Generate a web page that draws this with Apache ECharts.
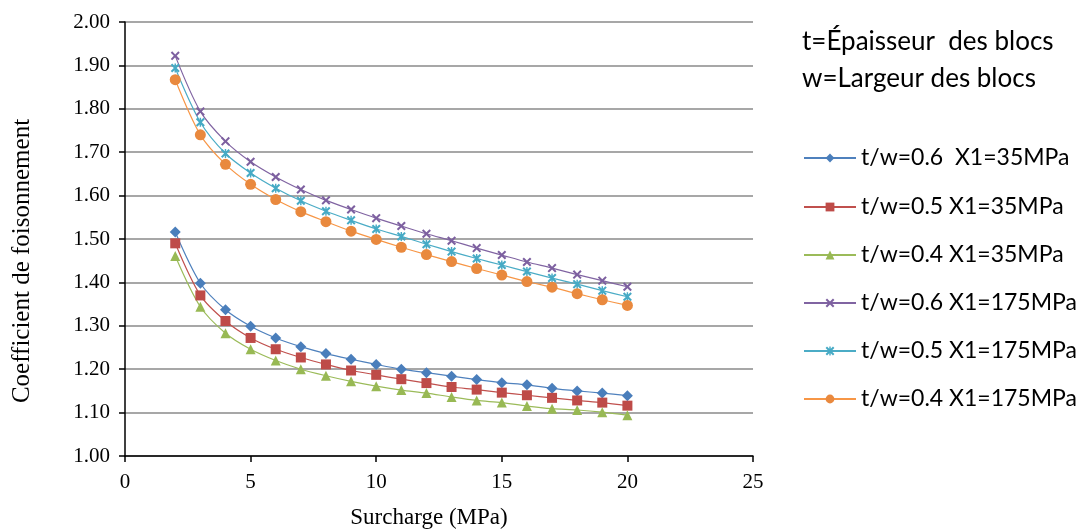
<!DOCTYPE html>
<html>
<head>
<meta charset="utf-8">
<script src="https://cdn.jsdelivr.net/npm/echarts@6/dist/echarts.min.js"></script>
<style>
html,body{margin:0;padding:0;background:#fff;}
#main{width:1085px;height:531px;}
</style>
</head>
<body>
<div id="main"></div>
<script>
// ---- data ----
const surcharge = [2,3,4,5,6,7,8,9,10,11,12,13,14,15,16,17,18,19,20];
const s06_35  = [1.516,1.398,1.337,1.299,1.272,1.252,1.236,1.223,1.211,1.200,1.192,1.184,1.176,1.169,1.164,1.156,1.150,1.145,1.139];
const s05_35  = [1.490,1.370,1.311,1.272,1.246,1.227,1.211,1.197,1.187,1.177,1.168,1.159,1.153,1.146,1.140,1.134,1.128,1.123,1.116];
const s04_35  = [1.461,1.344,1.283,1.246,1.220,1.200,1.185,1.172,1.161,1.152,1.145,1.136,1.128,1.123,1.115,1.109,1.106,1.101,1.094];
const s06_175 = [1.922,1.794,1.725,1.678,1.643,1.614,1.589,1.568,1.548,1.530,1.512,1.496,1.479,1.463,1.447,1.433,1.418,1.404,1.390];
const s05_175 = [1.894,1.769,1.697,1.652,1.617,1.588,1.564,1.543,1.523,1.506,1.488,1.471,1.455,1.440,1.425,1.410,1.396,1.381,1.367];
const s04_175 = [1.867,1.740,1.672,1.626,1.591,1.563,1.540,1.518,1.499,1.481,1.464,1.448,1.432,1.417,1.402,1.389,1.374,1.360,1.347];
const seriesNames = [
  't/w=0.6  X1=35MPa',
  't/w=0.5 X1=35MPa',
  't/w=0.4 X1=35MPa',
  't/w=0.6 X1=175MPa',
  't/w=0.5 X1=175MPa',
  't/w=0.4 X1=175MPa'
];
const seriesValues = [s06_35, s05_35, s04_35, s06_175, s05_175, s04_175];
const headerLines = ['t=Épaisseur  des blocs', 'w=Largeur des blocs'];
const xTitle = 'Surcharge (MPa)';
const yTitle = 'Coefficient de foisonnement';

// ---- styles ----
const XPATH = 'path://M0,1.6L1.6,0L5,3.4L8.4,0L10,1.6L6.6,5L10,8.4L8.4,10L5,6.6L1.6,10L0,8.4L3.4,5Z';
const STARPATH = 'path://M0,1.6L1.6,0L5,3.4L8.4,0L10,1.6L6.6,5L10,8.4L8.4,10L5,6.6L1.6,10L0,8.4L3.4,5ZM4.2,0L5.8,0L5.8,10L4.2,10Z';
const styles = [
  {line:'#4F81BD', mark:'#4A7EBB', symbol:'diamond', size:11},
  {line:'#C0504D', mark:'#BE4B48', symbol:'rect', size:10},
  {line:'#9BBB59', mark:'#98B954', symbol:'triangle', size:10},
  {line:'#8064A2', mark:'#7D60A0', symbol:XPATH, size:9},
  {line:'#4BACC6', mark:'#46AAC5', symbol:STARPATH, size:9},
  {line:'#F79646', mark:'#E9893E', symbol:'circle', size:11}
];
const legendRows = [158, 207, 255, 303, 351, 399];
const LFONT = 'Lato';
const LSIZE = 23;
const HSIZE = 26;

const chart = echarts.init(document.getElementById('main'), null, {renderer:'canvas'});

const series = seriesNames.map((name, i) => ({
  name: name,
  type: 'line',
  data: surcharge.map((x, j) => [x, seriesValues[i][j]]),
  smooth: 0.3,
  symbol: styles[i].symbol,
  symbolSize: styles[i].size,
  lineStyle: {color: styles[i].line, width: 1.2},
  itemStyle: {color: styles[i].mark},
  emphasis: {disabled: true},
  animation: false
}));

const legends = seriesNames.map((name, i) => ({
  data: [name],
  left: 803,
  top: legendRows[i] - 13,
  padding: 0,
  itemWidth: 52,
  itemHeight: 11,
  selectedMode: false,
  textStyle: {fontFamily: LFONT, fontSize: LSIZE, color: '#000', lineHeight: 26}
}));

chart.setOption({
  backgroundColor: '#fff',
  animation: false,
  grid: {left: 125, right: 332, top: 22, bottom: 75, containLabel: false, outerBoundsMode: 'none'},
  xAxis: {
    type: 'value', min: 0, max: 25, interval: 5,
    name: xTitle, nameLocation: 'middle', nameGap: 50,
    nameTextStyle: {fontFamily: 'Liberation Serif', fontSize: 23, color: '#000', padding: [0, 20, 0, 0]},
    axisLine: {show: true, onZero: false, lineStyle: {color: '#000', width: 1.5}},
    axisTick: {show: true, length: 6, lineStyle: {color: '#000', width: 1.5}},
    axisLabel: {fontFamily: 'Liberation Serif', fontSize: 21, color: '#000', margin: 16},
    splitLine: {show: false}
  },
  yAxis: {
    type: 'value', min: 1, max: 2, interval: 0.1,
    name: yTitle, nameLocation: 'middle', nameGap: 90, nameRotate: 90,
    nameTextStyle: {fontFamily: 'Liberation Serif', fontSize: 25, color: '#000', padding: [0, 44, 0, 0]},
    axisLine: {show: true, lineStyle: {color: '#000', width: 1.5}},
    axisTick: {show: true, length: 6, lineStyle: {color: '#000', width: 1.5}},
    axisLabel: {fontFamily: 'Liberation Serif', fontSize: 21, color: '#000', margin: 15,
      formatter: v => v.toFixed(2)},
    splitLine: {show: true, lineStyle: {color: '#8a8a8a', width: 1.6}}
  },
  legend: legends,
  graphic: headerLines.map((t, i) => ({
    type: 'text', left: 802, top: [42, 79][i] - 15,
    style: {text: t, fontFamily: LFONT, fontSize: HSIZE, fill: '#000', lineHeight: 30}
  })),
  series: series
});
</script>
</body>
</html>
